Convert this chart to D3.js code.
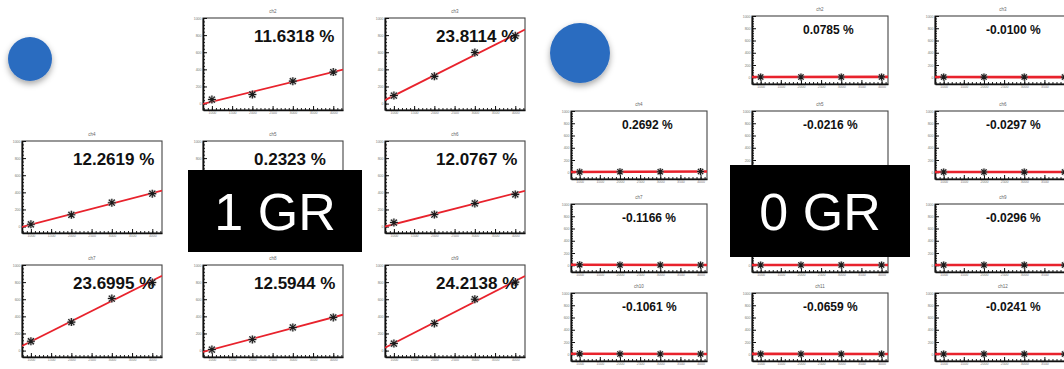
<!DOCTYPE html>
<html><head><meta charset="utf-8">
<script src="https://cdn.jsdelivr.net/npm/d3@7"></script>
<style>
html,body{margin:0;padding:0;background:#fff;}
svg{display:block;}
</style></head><body>
<svg id="c" width="1064" height="369"></svg>
<script>
// Beam energies at which every channel was measured
const energies = [1000, 2000, 3000, 4000];
const xTickValues = [1000, 1500, 2000, 2500, 3000, 3500, 4000];
const yTickValues = [0, 200, 400, 600, 800, 1000];

// Group "1 GR": channel names, fitted slope (percent) and measured points
const gr1Channels = ["ch2", "ch3", "ch4", "ch5", "ch6", "ch7", "ch8", "ch9"];
const gr1Slopes = [11.6318, 23.8114, 12.2619, 0.2323, 12.0767, 23.6995, 12.5944, 24.2138];
const gr1Points = [
  [47, 106, 262, 368],
  [94, 318, 596, 792],
  [27, 138, 279, 385],
  [12, 14, 16, 18],
  [47, 141, 270, 376],
  [109, 333, 608, 796],
  [12, 130, 270, 388],
  [82, 317, 600, 800]
];

// Group "0 GR"
const gr0Channels = ["ch2", "ch3", "ch4", "ch5", "ch6", "ch7", "ch8", "ch9", "ch10", "ch11", "ch12"];
const gr0Slopes = [0.0785, -0.0100, 0.2692, -0.0216, -0.0297, -0.1166, null, -0.0296, -0.1061, -0.0659, -0.0241];
const gr0Points = [
  [4, 5, 5, 6],
  [3, 3, 3, 3],
  [6, 8, 9, 12],
  [4, 4, 3, 3],
  [4, 4, 3, 3],
  [8, 6, 5, 4],
  [4, 4, 4, 4],
  [4, 4, 3, 3],
  [7, 6, 5, 4],
  [6, 5, 5, 4],
  [4, 4, 3, 3]
];

// Caption boxes laid over the grids
const captions = [
  { text: "1 GR", x: 188, y: 170, w: 174, h: 82 },
  { text: "0 GR", x: 730, y: 165, w: 180, h: 92 }
];
const W = 1064;

const svg = d3.select("#c");
const defs = svg.append("defs");
const shadow = defs.append("filter").attr("id", "dotShadow")
  .attr("x", "-50%").attr("y", "-50%").attr("width", "200%").attr("height", "200%");
shadow.append("feDropShadow").attr("dx", 0).attr("dy", 3).attr("stdDeviation", 3)
  .attr("flood-color", "#000").attr("flood-opacity", 0.35);

let clipId = 0;
const FONT = "Liberation Sans, Arial, Helvetica, sans-serif";

function starPath(s) {
  return `M${-s},0L${s},0M0,${-s}L0,${s}M${-s*0.75},${-s*0.75}L${s*0.75},${s*0.75}M${-s*0.75},${s*0.75}L${s*0.75},${-s*0.75}`;
}

// small texts that end up under a caption box or past the page edge are not kept
function pruneHidden(sel) {
  sel.each(function () {
    const b = this.getBBox();
    const m = this.getScreenCTM();
    const x1 = m.e + b.x, y1 = m.f + b.y, x2 = x1 + b.width, y2 = y1 + b.height;
    const covered = captions.some(c => x1 < c.x + c.w && x2 > c.x && y1 < c.y + c.h && y2 > c.y);
    if (covered || x2 > W) d3.select(this).remove();
  });
}

function drawPanel(cfg) {
  const { x0, y0, w, h, name, slope, values, xDomain, yDomain, labelSize, labelDy, lineWidth, markerSize } = cfg;
  const g = svg.append("g").attr("transform", `translate(${x0},${y0})`);
  const x = d3.scaleLinear().domain(xDomain).range([0, w]);
  const y = d3.scaleLinear().domain(yDomain).range([h, 0]);

  // title
  g.append("text").attr("x", w / 2).attr("y", -5).attr("text-anchor", "middle")
    .attr("font-family", FONT).attr("font-size", 4.5)
    .attr("fill", "#666").text(name)
    .call(pruneHidden);

  // frame
  g.append("rect").attr("width", w).attr("height", h)
    .attr("fill", "#fff").attr("stroke", "#444").attr("stroke-width", 1.1);

  // axes with inward ticks
  const ax = (sel) => sel.selectAll("text").attr("font-size", 3.5).attr("fill", "#777")
    .attr("font-family", FONT);
  const fmt = d3.format("d");
  const yMinor = d3.range(0, 1001, 40).filter(v => v >= yDomain[0] && v <= yDomain[1]);
  const xMinor = d3.range(800, 4300, 100).filter(v => v >= xDomain[0] && v <= xDomain[1]);
  g.append("g").call(d3.axisLeft(y).tickValues(yMinor).tickSize(-2).tickSizeOuter(0).tickFormat(""))
    .call(s => s.select(".domain").remove()).selectAll("line").attr("stroke", "#222");
  g.append("g").call(d3.axisLeft(y).tickValues(yTickValues).tickSize(-4).tickSizeOuter(0).tickPadding(1.5).tickFormat(fmt))
    .call(ax).call(s => s.select(".domain").attr("stroke", "#111").attr("stroke-width", 1.6))
    .call(s => s.selectAll(".tick text").call(pruneHidden))
    .selectAll("line").attr("stroke", "#111");
  g.append("g").attr("transform", `translate(0,${h})`)
    .call(d3.axisBottom(x).tickValues(xMinor).tickSize(-2).tickSizeOuter(0).tickFormat(""))
    .call(s => s.select(".domain").remove()).selectAll("line").attr("stroke", "#222");
  g.append("g").attr("transform", `translate(0,${h})`)
    .call(d3.axisBottom(x).tickValues(xTickValues).tickSize(-4).tickSizeOuter(0).tickPadding(1.5).tickFormat(fmt))
    .call(ax).call(s => s.select(".domain").attr("stroke", "#111").attr("stroke-width", 1.6))
    .call(s => s.selectAll(".tick text").call(pruneHidden))
    .selectAll("line").attr("stroke", "#111");

  // linear fit: slope from the stated percentage, intercept from the points
  const mx = d3.mean(energies), my = d3.mean(values);
  let b;
  if (slope === null) {
    b = d3.sum(energies, (e, i) => (e - mx) * (values[i] - my)) / d3.sum(energies, e => (e - mx) ** 2);
  } else {
    b = slope / 100;
  }
  const a = my - b * mx;
  const id = "clip" + (clipId++);
  defs.append("clipPath").attr("id", id).append("rect").attr("width", w).attr("height", h);
  g.append("line").attr("clip-path", `url(#${id})`)
    .attr("x1", x(xDomain[0])).attr("y1", y(a + b * xDomain[0]))
    .attr("x2", x(xDomain[1])).attr("y2", y(a + b * xDomain[1]))
    .attr("stroke", "#e8222c").attr("stroke-width", lineWidth);

  // measured points (soft grey halo under a dark star)
  const pts = g.selectAll("g.pt").data(values).join("g").attr("class", "pt")
    .attr("transform", (v, i) => `translate(${x(energies[i])},${y(v)})`);
  pts.append("path").attr("d", starPath(markerSize))
    .attr("stroke", "#aaa").attr("stroke-opacity", 0.6).attr("stroke-width", 2.6).attr("fill", "none");
  pts.append("path").attr("d", starPath(markerSize))
    .attr("stroke", "#1a1a1a").attr("stroke-width", 1.1).attr("fill", "none");

  // slope label
  if (slope !== null) {
    g.append("text").attr("x", 51).attr("y", labelDy)
      .attr("font-family", FONT).attr("font-weight", "bold")
      .attr("font-size", labelSize).attr("fill", "#111")
      .text(`${slope.toFixed(4)} %`);
  }
}

// Group 1 GR : 3x3 grid, first slot holds the marker dot
const gr1Cols = [22, 203, 385], gr1Rows = [18, 141, 265];
gr1Channels.forEach((name, i) => {
  const slot = +name.slice(2) - 1;
  drawPanel({
    x0: gr1Cols[slot % 3], y0: gr1Rows[Math.floor(slot / 3)], w: 140, h: 92,
    name, slope: gr1Slopes[i], values: gr1Points[i],
    xDomain: [780, 4240], yDomain: [-75, 1000],
    labelSize: 17, labelDy: 24, lineWidth: 1.8, markerSize: 4
  });
});

// Group 0 GR : 4 rows x 3 columns
const gr0Cols = [571, 752, 935], gr0Rows = [16, 111, 204, 293];
gr0Channels.forEach((name, i) => {
  const slot = +name.slice(2) - 1;
  drawPanel({
    x0: gr0Cols[slot % 3], y0: gr0Rows[Math.floor(slot / 3)], w: 136, h: 68,
    name, slope: gr0Slopes[i], values: gr0Points[i],
    xDomain: [785, 4160], yDomain: [-110, 1000],
    labelSize: 12, labelDy: 18, lineWidth: 2.6, markerSize: 3.5
  });
});

// marker dots
svg.append("circle").attr("cx", 30).attr("cy", 59).attr("r", 22)
  .attr("fill", "#2b6cc0").attr("filter", "url(#dotShadow)");
svg.append("circle").attr("cx", 580).attr("cy", 53).attr("r", 30)
  .attr("fill", "#2b6cc0").attr("filter", "url(#dotShadow)");

// group captions
captions.forEach(c => {
  svg.append("rect").attr("x", c.x).attr("y", c.y).attr("width", c.w).attr("height", c.h).attr("fill", "#000");
  svg.append("text").attr("x", c.x + c.w / 2).attr("y", c.y + c.h / 2).attr("dy", "0.36em")
    .attr("text-anchor", "middle").attr("font-family", FONT)
    .attr("font-size", 52).attr("fill", "#fff").text(c.text);
});
</script>
</body></html>
